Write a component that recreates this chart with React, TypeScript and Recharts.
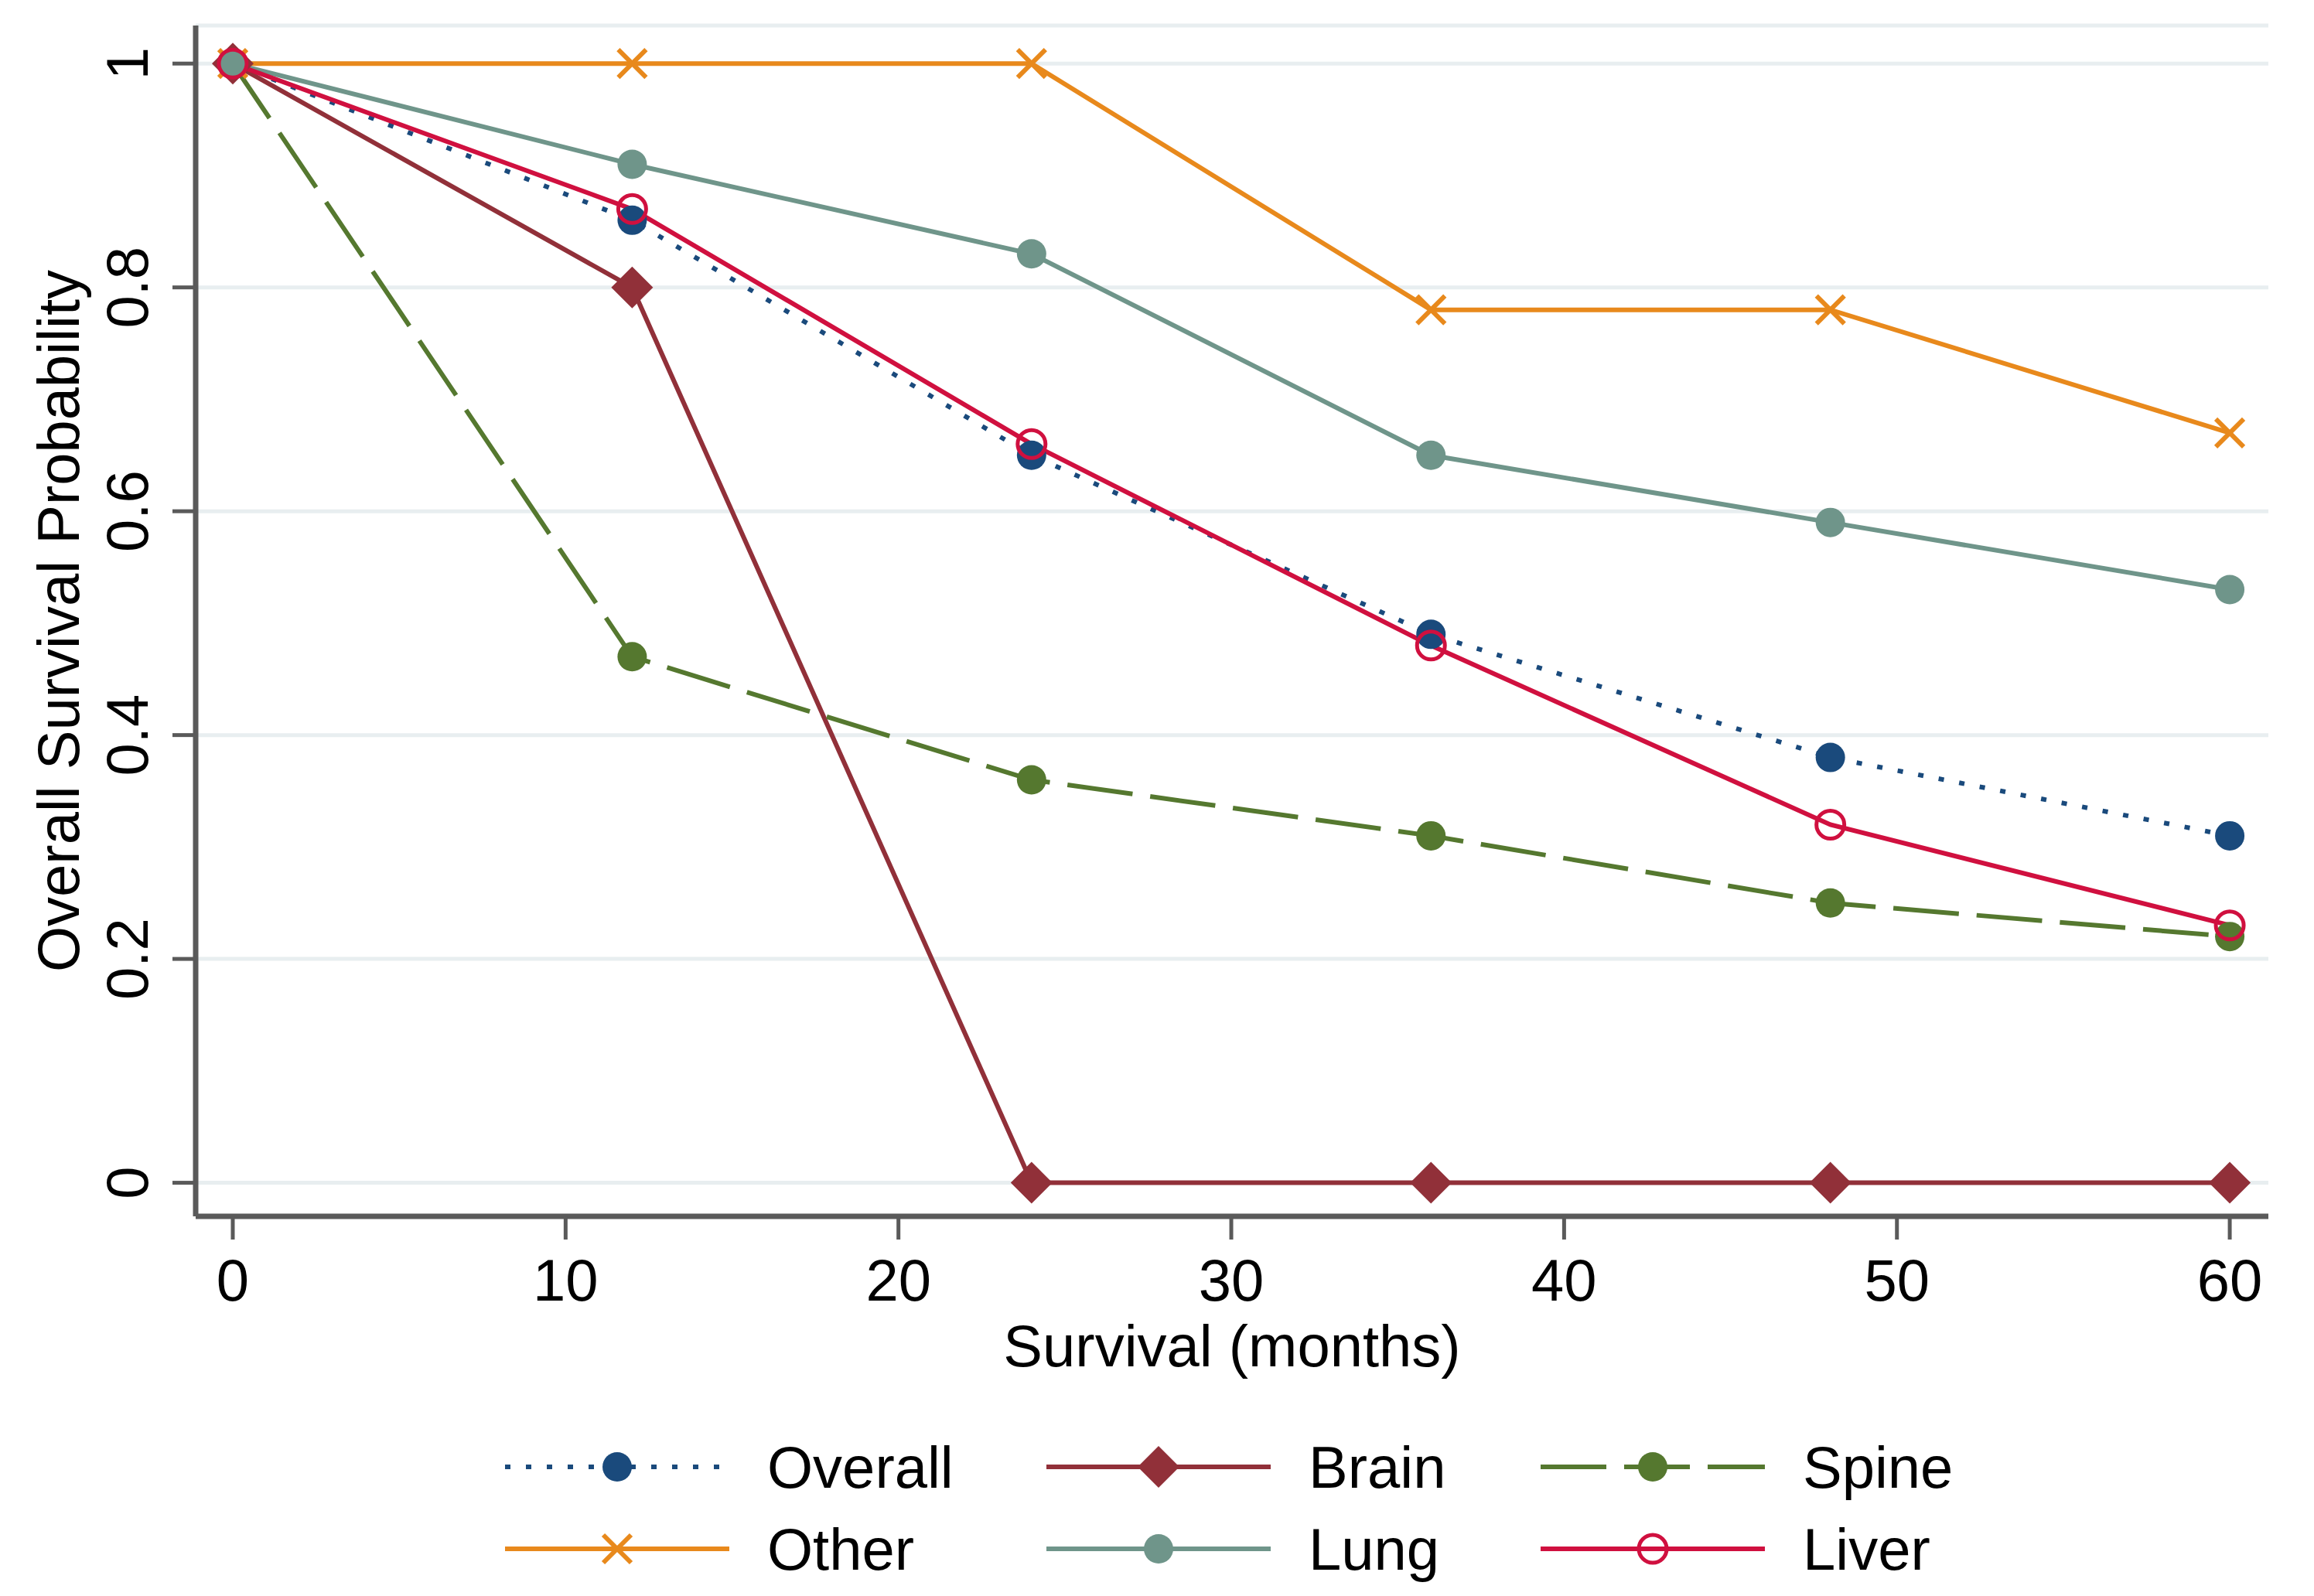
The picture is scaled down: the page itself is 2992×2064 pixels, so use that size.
import React from "react";
import { LineChart, Line, XAxis, YAxis, CartesianGrid, Label } from "recharts";

const months = [0, 12, 24, 36, 48, 60];
const overall = [1, 0.86, 0.65, 0.49, 0.38, 0.31];
const brain = [1, 0.8, 0, 0, 0, 0];
const spine = [1, 0.47, 0.36, 0.31, 0.25, 0.22];
const other = [1, 1, 1, 0.78, 0.78, 0.67];
const lung = [1, 0.91, 0.83, 0.65, 0.59, 0.53];
const liver = [1, 0.87, 0.66, 0.48, 0.32, 0.23];

const xTicks = [0, 10, 20, 30, 40, 50, 60];
const yTicks = [0, 0.2, 0.4, 0.6, 0.8, 1];
const yTickLabels = ["0", "0.2", "0.4", "0.6", "0.8", "1"];

const xTitle = "Survival (months)";
const yTitle = "Overall Survival Probability";

type Marker = "circle" | "diamond" | "x" | "hollow";
interface SeriesDef {
  key: string;
  values: number[];
  color: string;
  dash?: string;
  marker: Marker;
}

const series: SeriesDef[] = [
  { key: "Overall", values: overall, color: "#1a4a7c", dash: "7 20", marker: "circle" },
  { key: "Brain", values: brain, color: "#913039", marker: "diamond" },
  { key: "Spine", values: spine, color: "#55782f", dash: "85 23", marker: "circle" },
  { key: "Other", values: other, color: "#e8891c", marker: "x" },
  { key: "Lung", values: lung, color: "#6f958a", marker: "circle" },
  { key: "Liver", values: liver, color: "#d0103f", marker: "hollow" },
];

const data = months.map((m, i) => {
  const row: Record<string, number> = { month: m };
  series.forEach((s) => {
    row[s.key] = s.values[i];
  });
  return row;
});

const FONT = "'Liberation Sans', Arial, Helvetica, sans-serif";
const FS = 76;
const AXIS = "#5a5a5a";

function markerShape(kind: Marker, cx: number, cy: number, color: string, key?: string | number) {
  if (kind === "circle") return <circle key={key} cx={cx} cy={cy} r={19} fill={color} />;
  if (kind === "diamond")
    return (
      <path
        key={key}
        d={`M${cx},${cy - 27} L${cx + 27},${cy} L${cx},${cy + 27} L${cx - 27},${cy} Z`}
        fill={color}
      />
    );
  if (kind === "x")
    return (
      <g key={key} stroke={color} strokeWidth={6}>
        <line x1={cx - 18} y1={cy - 18} x2={cx + 18} y2={cy + 18} />
        <line x1={cx - 18} y1={cy + 18} x2={cx + 18} y2={cy - 18} />
      </g>
    );
  return <circle key={key} cx={cx} cy={cy} r={18} fill="none" stroke={color} strokeWidth={5} />;
}

const YTick = (props: any) => {
  const { y, index } = props;
  const x = 165;
  return (
    <text
      x={x}
      y={y}
      transform={`rotate(-90, ${x}, ${y})`}
      textAnchor="middle"
      dominantBaseline="central"
      fontSize={FS}
      fontFamily={FONT}
      fill="#000"
    >
      {yTickLabels[index] ?? String(props.payload.value)}
    </text>
  );
};

const XTick = (props: any) => {
  const { x, payload } = props;
  return (
    <text x={x} y={1682} textAnchor="middle" fontSize={FS} fontFamily={FONT} fill="#000">
      {payload.value}
    </text>
  );
};

const legendCols = [653, 1353, 1992];
const legendRows = [1897, 2003];
const LINE_LEN = 290;
const TEXT_OFF = 339;

function LegendSvg() {
  return (
    <svg
      width={2992}
      height={2064}
      style={{ position: "absolute", left: 0, top: 0, pointerEvents: "none" }}
    >
      {series.map((s, i) => {
        const col = i % 3;
        const row = Math.floor(i / 3);
        const x0 = legendCols[col];
        const y = legendRows[row];
        return (
          <g key={s.key}>
            <line
              x1={x0}
              y1={y}
              x2={x0 + LINE_LEN}
              y2={y}
              stroke={s.color}
              strokeWidth={6}
              strokeDasharray={s.dash}
            />
            {markerShape(s.marker, x0 + LINE_LEN / 2, y, s.color)}
            <text
              x={x0 + TEXT_OFF}
              y={y}
              dominantBaseline="central"
              fontSize={FS}
              fontFamily={FONT}
              fill="#000"
            >
              {s.key}
            </text>
          </g>
        );
      })}
    </svg>
  );
}

export default function App() {
  return (
    <div
      style={{
        position: "absolute",
        left: 0,
        top: 0,
        width: 2992,
        height: 2064,
        background: "#fff",
        fontFamily: FONT,
      }}
    >
      <LineChart
        width={2992}
        height={2064}
        data={data}
        margin={{ top: 33, right: 59, left: 53, bottom: 341 }}
      >
        <CartesianGrid
          horizontal={true}
          vertical={false}
          stroke="#e8eef0"
          strokeWidth={5}
        />
        <XAxis
          dataKey="month"
          type="number"
          domain={[-1.115, 61.16]}
          ticks={xTicks}
          allowDataOverflow
          height={150}
          tickSize={30}
          axisLine={{ stroke: AXIS, strokeWidth: 7 }}
          tickLine={{ stroke: AXIS, strokeWidth: 5 }}
          tick={<XTick />}
          interval={0}
        >
          <Label
            content={() => (
              <text
                x={1593}
                y={1767}
                textAnchor="middle"
                fontSize={FS}
                fontFamily={FONT}
                fill="#000"
              >
                {xTitle}
              </text>
            )}
          />
        </XAxis>
        <YAxis
          type="number"
          domain={[-0.03, 1.034]}
          ticks={yTicks}
          allowDataOverflow
          width={200}
          tickSize={30}
          axisLine={{ stroke: AXIS, strokeWidth: 7 }}
          tickLine={{ stroke: AXIS, strokeWidth: 5 }}
          tick={<YTick />}
          interval={0}
        >
          <Label
            content={() => (
              <text
                x={75}
                y={803}
                transform="rotate(-90, 75, 803)"
                textAnchor="middle"
                dominantBaseline="central"
                fontSize={FS}
                fontFamily={FONT}
                fill="#000"
              >
                {yTitle}
              </text>
            )}
          />
        </YAxis>
        {series.map((s) => (
          <Line
            key={s.key}
            type="linear"
            dataKey={s.key}
            stroke={s.color}
            strokeWidth={6}
            strokeDasharray={s.dash}
            isAnimationActive={false}
            activeDot={false}
            dot={(p: any) => markerShape(s.marker, p.cx, p.cy, s.color, `${s.key}-${p.index}`)}
          />
        ))}
      </LineChart>
      <LegendSvg />
    </div>
  );
}
